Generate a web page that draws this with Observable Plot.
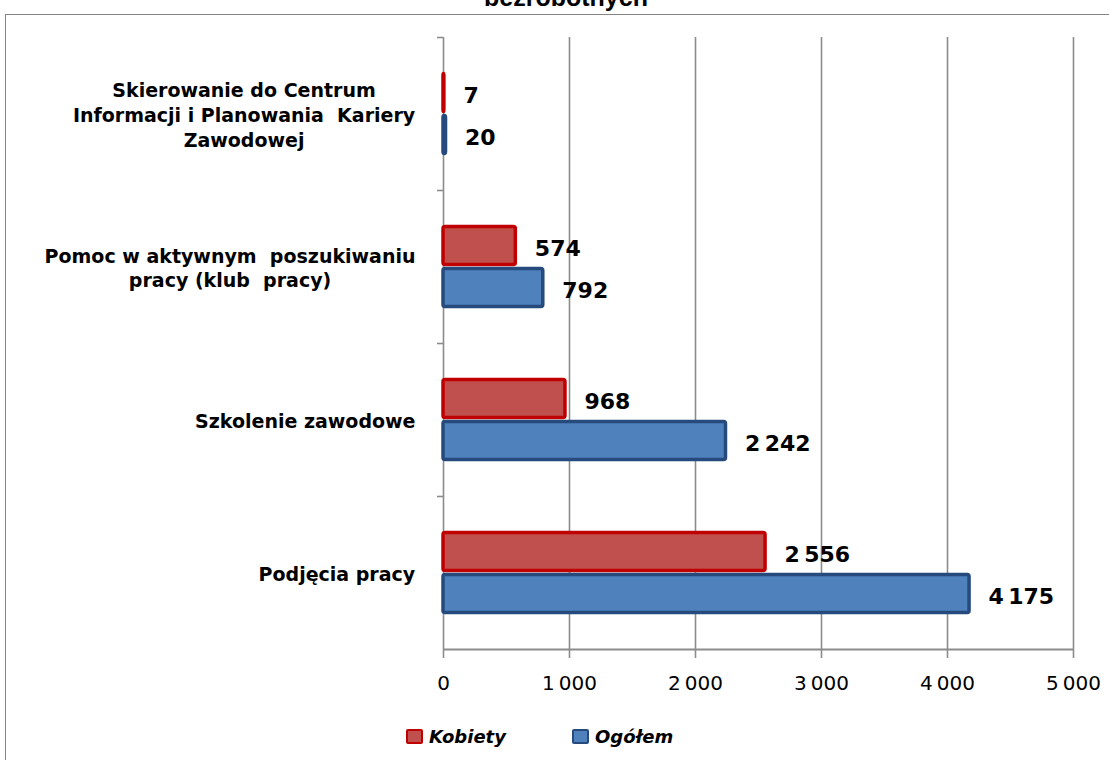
<!DOCTYPE html>
<html><head><meta charset="utf-8">
<script src="https://cdn.jsdelivr.net/npm/d3@7"></script>
<script src="https://cdn.jsdelivr.net/npm/@observablehq/plot@0.6"></script>
<style>
html,body{margin:0;padding:0;background:#fff;overflow:hidden;width:1109px;height:760px;position:relative;}
#frame{position:absolute;left:5px;top:14px;width:1200px;height:800px;border:1.5px solid #858585;box-sizing:border-box;}
#title{position:absolute;left:0;width:1132px;text-align:center;top:-15px;font:bold 25px "Liberation Sans",Arial,sans-serif;line-height:25px;color:#000;}
#chart{position:absolute;left:0;top:0;}
#legend{position:absolute;top:700px;left:0;width:1109px;height:60px;font:italic bold 18px "DejaVu Sans",sans-serif;color:#000;}
.item{position:absolute;top:26px;display:flex;align-items:center;}
.sw{display:inline-block;width:13px;height:11px;border-radius:2px;margin-right:6px;}
</style></head><body>
<div id="frame"></div>
<div id="title">bezrobotnych</div>
<div id="chart"></div>
<div id="legend"></div>
<script>
// ---- data ----
const categories = [
  "Skierowanie do Centrum Informacji i Planowania Kariery Zawodowej",
  "Pomoc w aktywnym poszukiwaniu pracy (klub pracy)",
  "Szkolenie zawodowe",
  "Podjęcia pracy"
];
const categoryLabels = [
  "Skierowanie do Centrum\nInformacji i Planowania  Kariery\nZawodowej",
  "Pomoc w aktywnym  poszukiwaniu\npracy (klub  pracy)",
  "Szkolenie zawodowe",
  "Podjęcia pracy"
];
const seriesNames = ["Kobiety", "Ogółem"];
const kobiety = [7, 574, 968, 2556];
const ogolem = [20, 792, 2242, 4175];
const xTicks = [0, 1000, 2000, 3000, 4000, 5000];

const colors = {
  Kobiety: {fill: "#C0504D", stroke: "#C00000"},
  "Ogółem": {fill: "#4F81BD", stroke: "#254A7B"}
};

const fmt = d => d3.format(",")(d).replace(/,/g, "\u2009");
const labelOf = new Map(categories.map((c, i) => [c, categoryLabels[i]]));
const data = categories.map((c, i) => ({cat: c, k: kobiety[i], o: ogolem[i]}));

const W = 1109, H = 700, mT = 37, mB = 51, mL = 443, mR = 36;
const bw = (H - mT - mB) / categories.length;
const barH = 38, off = 21;
const inset = (bw - barH) / 2;
const grid = "#8c8c8c";

const plot = Plot.plot({
  width: W, height: H,
  marginLeft: mL, marginRight: mR, marginTop: mT, marginBottom: mB,
  x: {domain: [0, 5000], axis: null},
  y: {domain: categories, padding: 0, axis: null},
  style: {background: "transparent", color: "#000", fontFamily: "DejaVu Sans, sans-serif", overflow: "visible"},
  marks: [
    Plot.ruleX(xTicks, {stroke: grid, strokeWidth: 1.6, insetBottom: -9}),
    Plot.ruleY([categories[categories.length - 1]], {dy: bw / 2, stroke: grid, strokeWidth: 1.8}),
    Plot.axisY({tickSize: 6, tickFormat: () => "", label: null, dy: -bw / 2, stroke: grid, strokeWidth: 1.6}),
    Plot.barX(data, {x: "k", y: "cat", fill: colors.Kobiety.fill, stroke: colors.Kobiety.stroke, strokeWidth: 3.5,
      insetTop: inset, insetBottom: inset, dy: -off, rx: 2}),
    Plot.barX(data, {x: "o", y: "cat", fill: colors["Ogółem"].fill, stroke: colors["Ogółem"].stroke, strokeWidth: 3.5,
      insetTop: inset, insetBottom: inset, dy: off, rx: 2}),
    Plot.text(data, {x: "k", y: "cat", text: d => fmt(d.k), dx: 19, dy: -off + 3, textAnchor: "start",
      fontSize: 22, fontWeight: "bold", fill: "#000"}),
    Plot.text(data, {x: "o", y: "cat", text: d => fmt(d.o), dx: 19, dy: off + 3, textAnchor: "start",
      fontSize: 22, fontWeight: "bold", fill: "#000"}),
    Plot.axisX({ticks: xTicks, tickSize: 0, tickPadding: 26, tickFormat: fmt, fontSize: 20, fill: "#000", label: null}),
    Plot.axisY({tickSize: 0, tickPadding: 28, tickFormat: c => labelOf.get(c), fontSize: 19, fontWeight: "bold",
      lineHeight: 1.3, fill: "#000", label: null})
  ]
});
document.getElementById("chart").appendChild(plot);

// center the lines of each multi-line category label within its block
plot.querySelectorAll('g[aria-label="y-axis tick label"] text').forEach(t => {
  const w = t.getBBox().width;
  t.setAttribute("text-anchor", "middle");
  t.setAttribute("transform", (t.getAttribute("transform") || "") + ` translate(${-w / 2},0)`);
});

// legend
const legend = document.getElementById("legend");
const legendX = {Kobiety: 406, "Ogółem": 572};
seriesNames.forEach(s => {
  const it = document.createElement("div");
  it.className = "item";
  it.style.left = legendX[s] + "px";
  const sw = document.createElement("span");
  sw.className = "sw";
  sw.style.background = colors[s].fill;
  sw.style.border = `2.5px solid ${colors[s].stroke}`;
  const tx = document.createElement("span");
  tx.textContent = s;
  it.appendChild(sw); it.appendChild(tx);
  legend.appendChild(it);
});
</script>
</body></html>
